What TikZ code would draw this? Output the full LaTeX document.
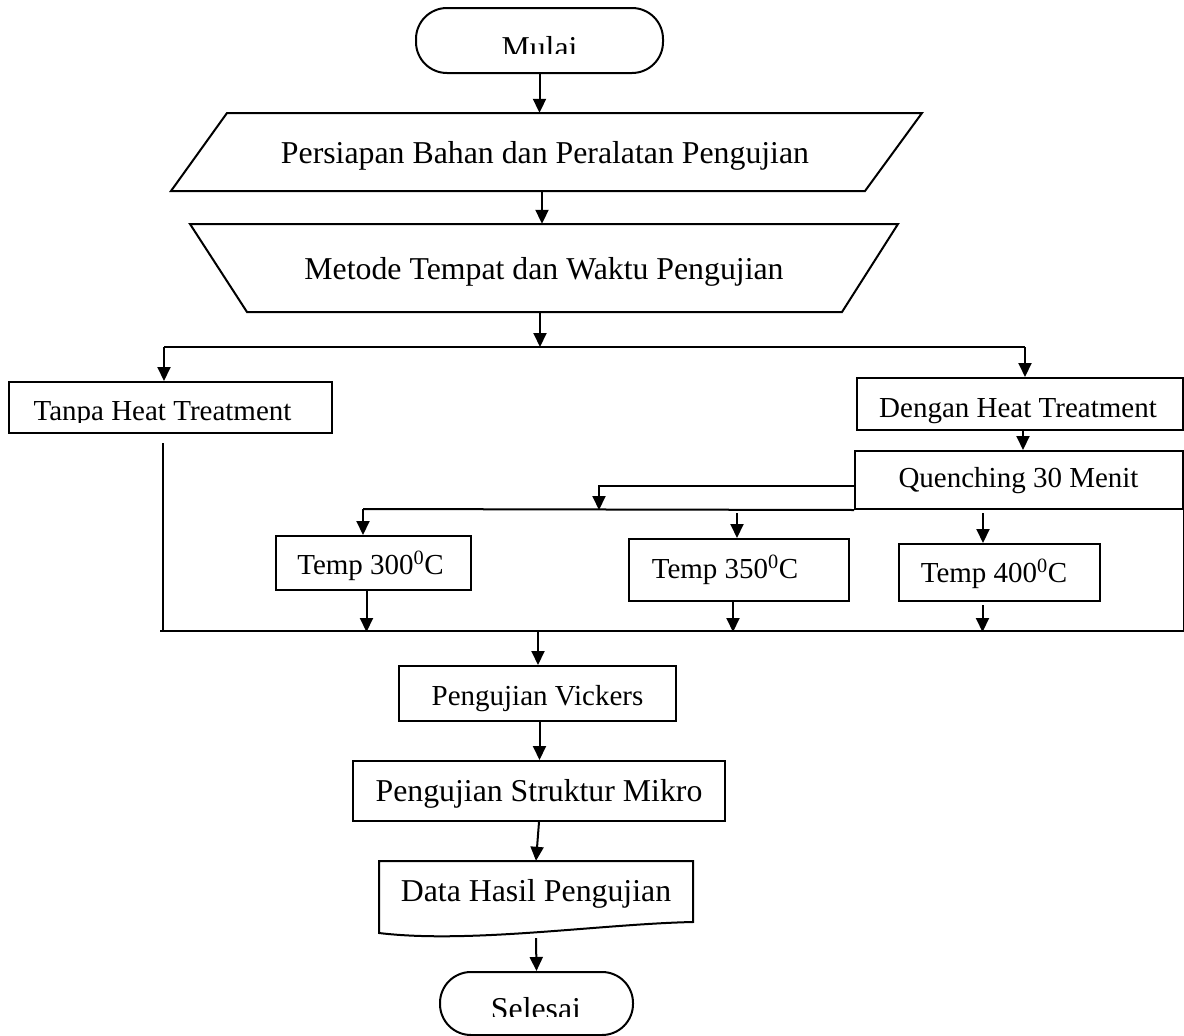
\documentclass[tikz,border=0pt]{standalone}
\usepackage{fontspec}
\setmainfont{Liberation Serif}
\usetikzlibrary{arrows.meta}
\begin{document}
\begin{tikzpicture}[x=1pt,y=-1pt,
  ln/.style={line width=2pt},
  arr/.style={line width=2pt,-{Triangle[length=14pt,width=13pt]}},
  box/.style={draw,line width=2pt,inner sep=0pt,rectangle},
  term/.style={draw,line width=2pt,rounded corners=31pt,inner sep=0pt,rectangle},
  ghost/.style={inner sep=0pt,rectangle},
  big/.style={font=\fontsize{31.8}{36}\selectfont,inner sep=0pt,anchor=base},
  sml/.style={font=\fontsize{29}{34}\selectfont,inner sep=0pt,anchor=base}]
\useasboundingbox (0,0) rectangle (1184,1036);

% --- Mulai
\node[term,minimum width=247pt,minimum height=65pt] (mulai) at (539.5,40.5) {};
\begin{scope}
  \clip (416,8) rectangle (663,53);
  \node[big] (mulaiT) at (539.5,58) {Mulai};
\end{scope}

% --- Persiapan (parallelogram)
\node[ghost,minimum width=600pt,minimum height=78pt] (pers) at (542,152) {};
\draw[ln] (227,113) -- (922,113) -- (865,191) -- (171,191) -- cycle;
\node[big] (persT) at (545,163) {Persiapan Bahan dan Peralatan Pengujian};

% --- Metode (trapezoid)
\node[ghost,minimum width=600pt,minimum height=88pt] (met) at (540,268) {};
\draw[ln] (190,224) -- (898,224) -- (842,312) -- (247,312) -- cycle;
\node[big] (metT) at (544,279) {Metode Tempat dan Waktu Pengujian};

% --- Tanpa
\node[box,minimum width=323pt,minimum height=51pt] (tanpa) at (170.5,407.5) {};
\begin{scope}
  \clip (9,382) rectangle (332,422.5);
  \node[sml] (tanpaT) at (162.5,420) {Tanpa Heat Treatment};
\end{scope}

% --- Dengan
\node[box,minimum width=326pt,minimum height=52pt] (dengan) at (1020,404) {};
\node[sml] (dengranT) at (1018,417) {Dengan Heat Treatment};

% --- Quenching
\node[box,minimum width=328pt,minimum height=58pt] (quench) at (1019,480) {};
\node[sml] (quenchT) at (1018.5,487) {Quenching 30 Menit};

% --- Temps
\node[box,minimum width=195pt,minimum height=54pt] (t300) at (373.5,563) {};
\node[sml] (t300T) at (370.5,574) {Temp 300\textsuperscript{0}C};
\node[box,minimum width=220pt,minimum height=62pt] (t350) at (739,570) {};
\node[sml] (t350T) at (725,578) {Temp 350\textsuperscript{0}C};
\node[box,minimum width=201pt,minimum height=57pt] (t400) at (999.5,572.5) {};
\node[sml] (t400T) at (994,582) {Temp 400\textsuperscript{0}C};

% --- Vickers, Struktur, Data, Selesai
\node[box,minimum width=277pt,minimum height=55pt] (vick) at (537.5,693.5) {};
\node[sml] (vickT) at (537.5,705) {Pengujian Vickers};
\node[box,minimum width=372pt,minimum height=60pt] (strukt) at (539,791) {};
\node[big] (struktT) at (539,801) {Pengujian Struktur Mikro};
\node[ghost,minimum width=314pt,minimum height=72pt] (data) at (536,897) {};
\draw[ln] (379,861) -- (693,861) -- (693,922) .. controls (600,924) and (470,944) .. (379,933) -- cycle;
\node[big] (dataT) at (536,901) {Data Hasil Pengujian};
\node[term,minimum width=193pt,minimum height=63pt] (selesai) at (536.5,1003.5) {};
\begin{scope}
  \clip (440,972) rectangle (633,1016.7);
  \node[big] (selesaiT) at (536,1019) {Selesai};
\end{scope}

% --- connectors
\coordinate (sp) at (540,347);
\coordinate (jl) at (164,347);
\coordinate (jr) at (1025,347);
\coordinate (tl) at (163,443);
\coordinate (bl) at (160,631);
\coordinate (qb) at (599,486);
\coordinate (tj) at (363,509);
\coordinate (a350) at (737,513);
\coordinate (a400) at (983,513);
\coordinate (vj) at (538,631);

\draw[arr] (mulai.south) -- (mulai.south |- pers.north);
\draw[arr] (pers.south) -- (pers.south |- met.north);
\draw[arr] (met.south) -- (sp);
\draw[ln] (jl) -- (jr);
\draw[arr] (jl) -- (jl |- tanpa.north);
\draw[arr] (jr) -- (jr |- dengan.north);
\draw[arr] ([xshift=3pt]dengan.south) -- ([xshift=3pt]dengan.south |- quench.north);
\draw[arr] (quench.west |- qb) -- (qb) -- (qb |- quench.south);
\draw[ln] (tj) -- (quench.south west);
\draw[arr] (tj) -- (tj |- t300.north);
\draw[arr] (a350) -- (a350 |- t350.north);
\draw[arr] (a400) -- (a400 |- t400.north);
\draw[ln] (tl) -- (tl |- bl);
\draw[ln] (bl) -| (quench.south east);
\draw[arr] ([xshift=-7pt]t300.south) -- ([xshift=-7pt,yshift=-1pt]t300.south |- bl);
\draw[arr] ([xshift=-6pt]t350.south) -- ([xshift=-6pt,yshift=-1pt]t350.south |- bl);
\draw[arr] ([xshift=-17pt,yshift=-3pt]t400.south) -- ([xshift=-17pt,yshift=-1pt]t400.south |- bl);
\draw[arr] (vj) -- (vj |- vick.north);
\draw[arr] ([xshift=2pt]vick.south) -- ([xshift=2pt]vick.south |- strukt.north);
\draw[arr] (strukt.south) -- (data.north);
\draw[arr] ([yshift=-5pt]data.south) -- (selesai.north);
\end{tikzpicture}
\end{document}
